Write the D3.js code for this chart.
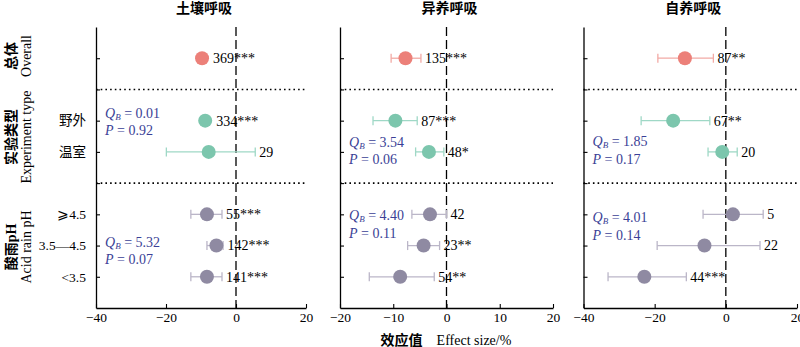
<!DOCTYPE html>
<html><head><meta charset="utf-8">
<script src="https://cdn.jsdelivr.net/npm/d3@7"></script>
<style>body{margin:0;background:#fff}svg{display:block}</style>
</head><body>
<script>
// ---- data ----
const rowLabels = ["Overall", "野外", "温室", "⩾4.5", "3.5—4.5", "<3.5"];
const rowSlots = [1, 3, 4, 6, 7, 8];
const groups = ["Overall", "Exp", "Exp", "pH", "pH", "pH"];

const panelTitles = ["土壤呼吸", "异养呼吸", "自养呼吸"];

const soilMean = [-9.7, -8.8, -7.8, -8.3, -5.6, -8.3];
const soilLo   = [-10.6, -9.6, -19.9, -12.9, -8.3, -12.9];
const soilHi   = [-8.8, -8.0, 5.5, -4.0, -3.7, -4.0];
const soilN    = [369, 334, 29, 55, 142, 141];
const soilSig  = ["***", "***", "", "***", "***", "***"];

const hetMean = [-7.7, -9.6, -3.3, -3.1, -4.3, -8.7];
const hetLo   = [-10.4, -13.8, -5.8, -6.5, -7.3, -14.5];
const hetHi   = [-4.8, -5.5, -0.5, 0.0, -1.3, -2.3];
const hetN    = [135, 87, 48, 42, 23, 54];
const hetSig  = ["***", "***", "*", "", "**", "**"];

const autMean = [-11.5, -14.8, -1.0, 2.0, -6.0, -22.9];
const autLo   = [-19.1, -23.8, -5.0, -6.4, -19.3, -33.1];
const autHi   = [-3.5, -4.5, 3.2, 10.5, 9.6, -11.1];
const autN    = [87, 67, 20, 5, 22, 44];
const autSig  = ["**", "**", "", "", "", "***"];

const qbExp = ["0.01", "3.54", "1.85"];
const pExp  = ["0.92", "0.06", "0.17"];
const qbPH  = ["5.32", "4.40", "4.01"];
const pPH   = ["0.07", "0.11", "0.14"];

const xDomains = [[-40, 20], [-20, 20], [-40, 20]];
const xTicks = [[-40, -20, 0, 20], [-20, -10, 0, 10, 20], [-40, -20, 0, 20]];

// ---- layout ----
const W = 800, H = 347;
const plotTop = 27, plotBottom = 308;
const panelX = [[96, 306], [340, 553], [583.5, 797]];
const colors = {Overall: "#ec8079", Exp: "#7cc6ad", pH: "#8f8aa2"};
const barColors = {Overall: "#f2aaa5", Exp: "#9fd8c6", pH: "#bbb6c8"};
const serif = "'Liberation Serif','Times New Roman','Noto Sans CJK SC',serif";
const qColor = "#3b3f96";
// QB annotation vertical placement (slot units) per panel
const qbExpSlot = [2.87, 3.8, 3.78];
const qbPHSlot = [7.0, 6.16, 6.22];

const panels = [
  {mean: soilMean, lo: soilLo, hi: soilHi, n: soilN, sig: soilSig},
  {mean: hetMean, lo: hetLo, hi: hetHi, n: hetN, sig: hetSig},
  {mean: autMean, lo: autLo, hi: autHi, n: autN, sig: autSig}
];

const svg = d3.select("body").append("svg").attr("width", W).attr("height", H)
  .style("font-family", serif);

const y = d3.scaleLinear().domain([0, 9]).range([plotTop, plotBottom]);

panels.forEach((p, pi) => {
  const x = d3.scaleLinear().domain(xDomains[pi]).range(panelX[pi]);
  const g = svg.append("g");

  // title
  g.append("text").attr("x", (panelX[pi][0] + panelX[pi][1]) / 2 + 3).attr("y", 13)
    .attr("text-anchor", "middle").attr("font-size", 14).attr("font-weight", "bold")
    .text(panelTitles[pi]);

  // x axis
  const xa = g.append("g").attr("transform", `translate(0,${plotBottom})`)
    .call(d3.axisBottom(x).tickValues(xTicks[pi]).tickSizeInner(-4).tickSizeOuter(0)
      .tickFormat(d => d < 0 ? "−" + Math.abs(d) : d));
  xa.select(".domain").attr("stroke", "#000").attr("stroke-width", 1.3);
  xa.selectAll(".tick line").attr("stroke", "#000").attr("stroke-width", 1.1);
  xa.selectAll(".tick text").attr("font-size", 13.5).attr("font-family", serif)
    .attr("fill", "#000").attr("dy", "0.71em").attr("y", 4);

  // y axis
  const ya = g.append("g").attr("transform", `translate(${panelX[pi][0]},0)`)
    .call(d3.axisLeft(y).tickValues([1, 2, 3, 4, 5, 6, 7, 8]).tickSizeInner(-4).tickSizeOuter(0)
      .tickFormat(""));
  ya.select(".domain").attr("stroke", "#000").attr("stroke-width", 1.3);
  ya.selectAll(".tick line").attr("stroke", "#000").attr("stroke-width", 1.1);

  // separators
  [2, 5].forEach(s => {
    g.append("line").attr("x1", panelX[pi][0]).attr("x2", panelX[pi][1])
      .attr("y1", y(s)).attr("y2", y(s))
      .attr("stroke", "#000").attr("stroke-width", 1.6).attr("stroke-dasharray", "1.6,3.1");
  });

  // zero line
  g.append("line").attr("x1", x(0)).attr("x2", x(0)).attr("y1", plotTop).attr("y2", plotBottom)
    .attr("stroke", "#000").attr("stroke-width", 1.3).attr("stroke-dasharray", "9,4");

  const rows = rowLabels.map((lab, i) => ({
    slot: rowSlots[i], grp: groups[i], m: p.mean[i], lo: p.lo[i], hi: p.hi[i],
    n: p.n[i], sig: p.sig[i]
  }));

  const r = 7;
  rows.forEach(d => {
    const yy = y(d.slot);
    const bc = barColors[d.grp];
    g.append("line").attr("x1", x(d.lo)).attr("x2", x(d.hi)).attr("y1", yy).attr("y2", yy)
      .attr("stroke", bc).attr("stroke-width", 1.3);
    [d.lo, d.hi].forEach(v => g.append("line").attr("x1", x(v)).attr("x2", x(v))
      .attr("y1", yy - 4.5).attr("y2", yy + 4.5).attr("stroke", bc).attr("stroke-width", 1.3));
    g.append("circle").attr("cx", x(d.m)).attr("cy", yy).attr("r", r).attr("fill", colors[d.grp]);
    const lx = Math.max(x(d.hi), x(d.m) + r) + 4;
    g.append("text").attr("x", lx).attr("y", yy).attr("dy", "0.35em")
      .attr("font-size", 14).attr("fill", "#000").text(d.n + d.sig);
  });

  // QB annotations
  const qx = panelX[pi][0] + 9;
  [[qbExp[pi], pExp[pi], qbExpSlot[pi]], [qbPH[pi], pPH[pi], qbPHSlot[pi]]].forEach(([q, pv, s]) => {
    const t1 = g.append("text").attr("x", qx).attr("y", y(s) + 1).attr("font-size", 14)
      .attr("fill", qColor);
    t1.append("tspan").attr("font-style", "italic").text("Q");
    t1.append("tspan").attr("font-style", "italic").attr("font-size", 9).attr("dy", 2).text("B");
    t1.append("tspan").attr("dy", -2).text(" = " + q);
    const t2 = g.append("text").attr("x", qx).attr("y", y(s) + 18.5).attr("font-size", 14)
      .attr("fill", qColor);
    t2.append("tspan").attr("font-style", "italic").text("P");
    t2.append("tspan").text(" = " + pv);
  });
});

// row tick labels (left of first panel)
rowLabels.forEach((lab, i) => {
  if (i === 0) return;
  svg.append("text").attr("x", 86).attr("y", y(rowSlots[i])).attr("dy", "0.35em")
    .attr("text-anchor", "end").attr("font-size", 13.5).text(lab);
});

// group labels (rotated)
const groupTitles = [
  {cn: "总体", en: "Overall", c: 56},
  {cn: "实验类型", en: "Experiment type", c: 137},
  {cn: "酸雨pH", en: "Acid rain pH", c: 247}
];
groupTitles.forEach(gt => {
  svg.append("text").attr("transform", `translate(16,${gt.c}) rotate(-90)`)
    .attr("text-anchor", "middle").attr("font-size", 14).attr("font-weight", "bold").text(gt.cn);
  svg.append("text").attr("transform", `translate(31,${gt.c}) rotate(-90)`)
    .attr("text-anchor", "middle").attr("font-size", 14).text(gt.en);
});

// x axis title
const xt = svg.append("text").attr("x", 446).attr("y", 345).attr("text-anchor", "middle")
  .attr("font-size", 14);
xt.append("tspan").attr("font-weight", "bold").text("效应值");
xt.append("tspan").text("\u2003Effect size/%");
</script>
</body></html>
